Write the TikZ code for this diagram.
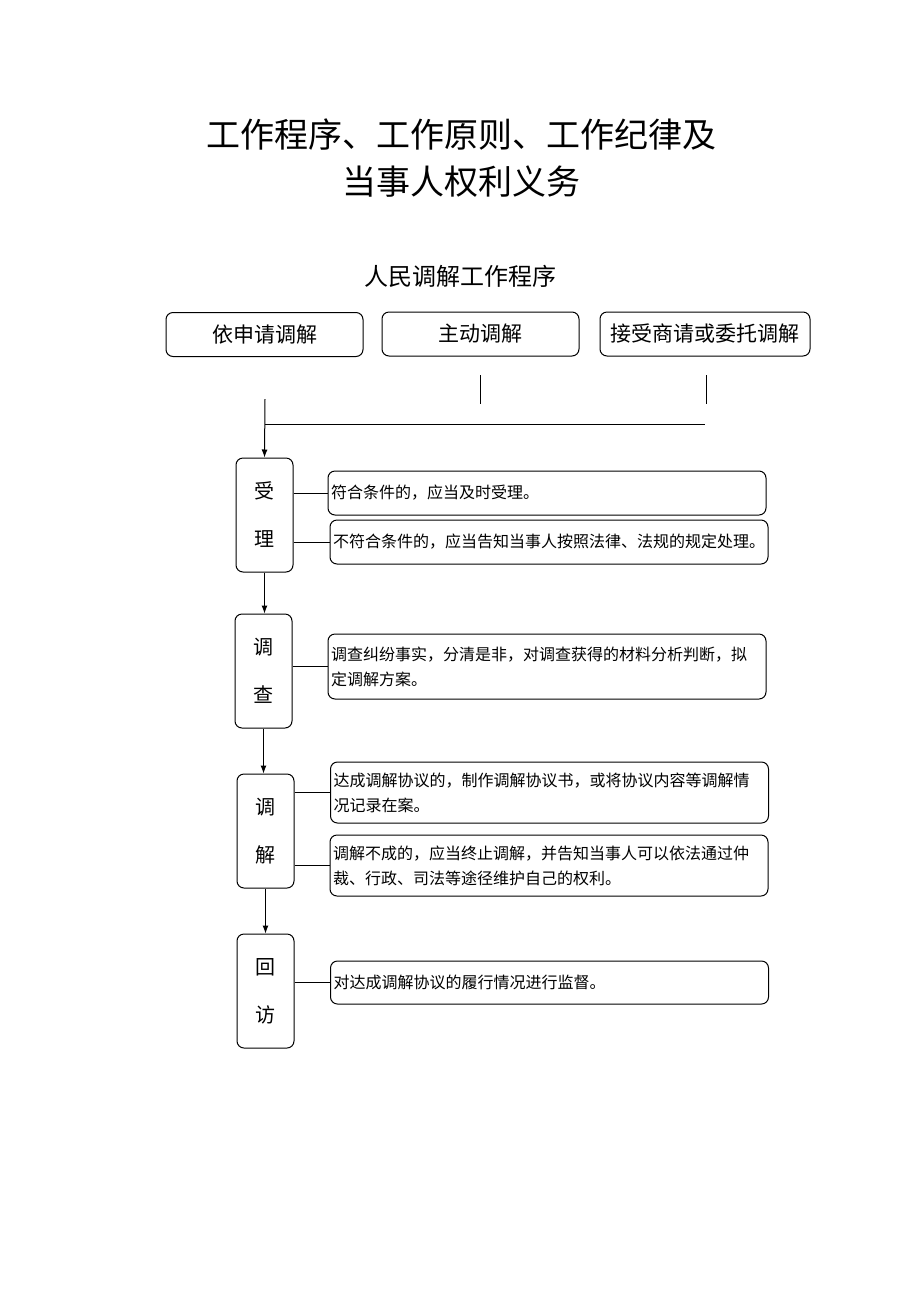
\documentclass[tikz,border=0pt]{standalone}
\usepackage{fontspec}
\setmainfont{Noto Sans CJK SC}
\usetikzlibrary{arrows.meta}
\begin{document}
\begin{tikzpicture}[x=1pt, y=-1pt, line width=1pt,
    every node/.style={inner sep=0pt},
    srcbox/.style={draw, rounded corners=7pt, minimum height=44pt, font=\fontsize{21}{26}\selectfont},
    stagebox/.style={draw, rounded corners=7pt, minimum width=57pt, minimum height=114pt, align=center, font=\fontsize{20}{48}\selectfont},
    notebox/.style={draw, rounded corners=7pt, text width=432pt, inner xsep=3pt, align=left, font=\fontsize{16}{25}\selectfont},
    flow/.style={-{Latex[length=8pt,width=6pt]}}]
    \useasboundingbox (0,0) rectangle (920,1302);
    % titles
    \node (t1) at (461,135) {\fontsize{34}{40}\selectfont 工作程序、工作原则、工作纪律及};
    \node (t2) at (461,182) {\fontsize{34}{40}\selectfont 当事人权利义务};
    \node (sub) at (460,276) {\fontsize{24}{30}\selectfont 人民调解工作程序};
    % three ways of starting
    \node [srcbox, minimum width=197pt] (apply) at (264.5,334.5) {依申请调解};
    \node [srcbox, minimum width=197pt] (active) at (480.5,334) {主动调解};
    \node [srcbox, minimum width=210pt] (entrust) at (705,334) {接受商请或委托调解};
    \coordinate (a1) at (480,375);  \coordinate (a2) at (480,404);
    \coordinate (e1) at (706,375);  \coordinate (e2) at (706,404);
    \coordinate (j0) at (265,399);  \coordinate (j1) at (265,424);  \coordinate (j2) at (705,424);
    \path (a1) edge (a2);
    \path (e1) edge (e2);
    \path (j1) edge (j2);
    % stages
    \node [stagebox] (accept) at (264.5,515) {受\\理};
    \node [stagebox] (survey) at (263.5,671) {调\\查};
    \node [stagebox] (mediate) at (265.5,831) {调\\解};
    \node [stagebox] (revisit) at (265.5,991) {回\\访};
    \draw [flow] (j0) -- (accept.north);
    \draw [flow] (accept.south) -- (accept.south |- survey.north);
    \draw [flow] (survey.south) -- (survey.south |- mediate.north);
    \draw [flow] (mediate.south) -- (revisit.north);
    % notes
    \node [notebox, minimum height=44pt] (n1) at (547,493) {符合条件的，应当及时受理。};
    \node [notebox, minimum height=44pt] (n2) at (549,542) {不符合条件的，应当告知当事人按照法律、法规的规定处理。};
    \node [notebox, minimum height=65pt] (n3) at (547,666.5) {调查纠纷事实，分清是非，对调查获得的材料分析判断，拟\\定调解方案。};
    \node [notebox, minimum height=61pt] (n4) at (549.5,792.5) {达成调解协议的，制作调解协议书，或将协议内容等调解情\\况记录在案。};
    \node [notebox, minimum height=61pt] (n5) at (549,865.5) {调解不成的，应当终止调解，并告知当事人可以依法通过仲\\裁、行政、司法等途径维护自己的权利。};
    \node [notebox, minimum height=43pt] (n6) at (549.5,982.5) {对达成调解协议的履行情况进行监督。};
    \path (accept.east |- n1.west) edge (n1.west);
    \path (accept.east |- n2.west) edge (n2.west);
    \path (survey.east |- n3.west) edge (n3.west);
    \path (mediate.east |- n4.west) edge (n4.west);
    \path (mediate.east |- n5.west) edge (n5.west);
    \path (revisit.east |- n6.west) edge (n6.west);
\end{tikzpicture}
\end{document}
